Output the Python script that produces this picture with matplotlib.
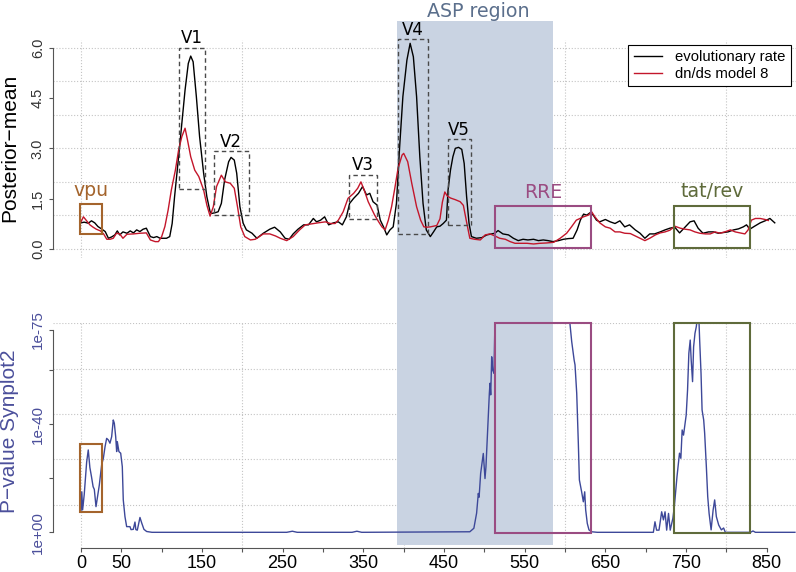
import matplotlib
matplotlib.use("Agg")
import matplotlib.pyplot as plt
from matplotlib.patches import Rectangle
from matplotlib.transforms import blended_transform_factory

plt.rcParams['font.family'] = ['Liberation Sans', 'DejaVu Sans']

# ---------------- data ----------------
black_x = [0, 4, 9, 13, 17, 21, 26, 30, 34, 38, 42, 45, 48, 52, 57, 61, 65, 69, 73, 77, 81, 83, 86, 90, 94, 98,
           102, 106, 110, 113, 116, 121, 125, 129, 133, 136, 139, 143, 147, 152, 156, 160, 162, 166, 170, 174,
           178, 183, 186, 190, 193, 197, 201, 205, 212, 218, 226, 234, 240, 247, 253, 258, 263, 269, 276, 282,
           288, 292, 297, 302, 307, 313, 319, 324, 329, 333, 338, 344, 349, 354, 358, 362, 367, 371, 375, 379,
           383, 387, 391, 395, 399, 404, 408, 412, 416, 420, 424, 428, 433, 437, 441, 445, 449, 453, 455, 458,
           461, 464, 468, 472, 475, 478, 481, 484, 490, 497, 503, 509, 513, 517, 523, 530, 536, 542, 548, 554,
           561, 567, 573, 579, 585, 592, 598, 604, 610, 615, 619, 623, 627, 631, 635, 639, 643, 650, 656, 662,
           668, 674, 680, 687, 693, 699, 705, 711, 718, 724, 730, 736, 742, 749, 755, 760, 765, 771, 778, 784,
           790, 796, 802, 809, 815, 821, 825, 829, 835, 842, 848, 854, 860]
black_y = [0.78, 0.80, 0.77, 0.84, 0.78, 0.67, 0.59, 0.52, 0.32, 0.36, 0.42, 0.54, 0.42, 0.51, 0.47, 0.54, 0.48,
           0.57, 0.52, 0.59, 0.62, 0.52, 0.37, 0.34, 0.37, 0.32, 0.32, 0.32, 0.37, 0.76, 1.56, 2.75, 3.75, 4.74,
           5.53, 5.75, 5.58, 4.54, 3.35, 2.26, 1.56, 1.11, 1.06, 1.08, 1.11, 1.36, 2.06, 2.60, 2.73, 2.65, 2.26,
           1.26, 0.77, 0.57, 0.47, 0.32, 0.47, 0.59, 0.65, 0.51, 0.32, 0.29, 0.45, 0.59, 0.72, 0.72, 0.91, 0.81,
           0.86, 0.96, 0.72, 0.78, 0.81, 0.72, 0.96, 1.36, 1.51, 1.66, 1.86, 1.61, 1.66, 1.41, 1.31, 0.86, 0.66,
           0.42, 0.57, 0.66, 1.36, 3.05, 4.54, 5.63, 6.13, 5.73, 4.54, 2.75, 1.36, 0.57, 0.37, 0.51, 0.66, 0.68,
           0.76, 0.86, 1.76, 2.35, 2.75, 3.00, 3.03, 2.97, 2.55, 1.56, 0.77, 0.37, 0.32, 0.34, 0.42, 0.45, 0.47,
           0.55, 0.45, 0.42, 0.32, 0.25, 0.29, 0.27, 0.29, 0.25, 0.27, 0.25, 0.22, 0.25, 0.29, 0.31, 0.32, 0.57,
           0.86, 1.04, 1.01, 1.08, 1.01, 0.86, 0.81, 0.88, 0.81, 0.76, 0.84, 0.66, 0.72, 0.57, 0.47, 0.32, 0.45,
           0.45, 0.51, 0.57, 0.62, 0.65, 0.48, 0.66, 0.81, 0.84, 0.62, 0.47, 0.51, 0.51, 0.47, 0.49, 0.51, 0.57,
           0.60, 0.66, 0.72, 0.59, 0.68, 0.78, 0.84, 0.91, 0.78]

red_x = [0, 3, 7, 11, 15, 19, 24, 28, 32, 36, 40, 44, 48, 52, 57, 65, 73, 81, 86, 92, 96, 100, 104, 108, 112,
         117, 121, 125, 129, 132, 136, 141, 146, 152, 156, 160, 164, 168, 174, 179, 185, 190, 194, 198, 203,
         210, 216, 226, 234, 241, 247, 255, 263, 271, 278, 286, 294, 303, 309, 315, 319, 325, 331, 338, 343,
         347, 351, 356, 360, 364, 369, 373, 377, 381, 385, 389, 393, 398, 400, 405, 410, 416, 421, 425, 429,
         433, 441, 445, 448, 451, 454, 458, 464, 470, 474, 478, 482, 488, 495, 501, 507, 513, 519, 526, 532,
         538, 544, 553, 561, 569, 577, 586, 594, 602, 608, 614, 623, 629, 633, 637, 643, 650, 656, 662, 668,
         674, 681, 687, 693, 699, 705, 712, 718, 724, 730, 736, 743, 749, 755, 761, 767, 774, 780, 786, 792,
         798, 805, 811, 817, 823, 827, 831, 836, 842, 848, 852]
red_y = [0.81, 0.96, 0.84, 0.72, 0.65, 0.59, 0.54, 0.45, 0.29, 0.29, 0.32, 0.47, 0.45, 0.32, 0.44, 0.45, 0.47,
         0.48, 0.27, 0.22, 0.22, 0.37, 0.67, 1.16, 1.76, 2.35, 2.95, 3.35, 3.60, 3.25, 2.75, 2.35, 2.16, 1.76,
         1.31, 0.98, 1.26, 1.86, 2.20, 2.00, 1.96, 1.81, 1.26, 0.66, 0.37, 0.27, 0.29, 0.45, 0.45, 0.39, 0.32,
         0.25, 0.37, 0.57, 0.72, 0.75, 0.78, 0.81, 0.76, 0.76, 0.86, 1.11, 1.51, 1.66, 1.81, 2.00, 1.76, 1.41,
         1.21, 1.01, 0.81, 0.66, 0.57, 0.86, 1.26, 1.81, 2.40, 2.80, 2.85, 2.60, 1.96, 1.26, 0.86, 0.66, 0.65,
         0.66, 0.70, 0.90, 1.40, 1.70, 1.58, 1.52, 1.47, 1.41, 1.30, 0.80, 0.32, 0.29, 0.27, 0.42, 0.45, 0.39,
         0.32, 0.29, 0.22, 0.17, 0.17, 0.17, 0.15, 0.17, 0.18, 0.20, 0.32, 0.47, 0.66, 0.86, 0.96, 1.01, 1.11,
         0.96, 0.78, 0.66, 0.62, 0.51, 0.51, 0.47, 0.46, 0.39, 0.32, 0.25, 0.32, 0.42, 0.48, 0.51, 0.56, 0.68,
         0.62, 0.59, 0.57, 0.51, 0.47, 0.45, 0.45, 0.51, 0.47, 0.51, 0.57, 0.51, 0.48, 0.45, 0.57, 0.86, 0.91,
         0.91, 0.88, 0.85]

# -log10(p) of Synplot2
blue_x = [0, 1, 2, 4, 7, 9, 11, 13, 15, 16.5, 18.6, 22.7, 25.6, 27.7, 29.8, 31.8, 33.9, 35.9, 38, 40, 41.3, 43,
          44.2, 45, 47, 49.2, 51.2, 52.4, 54.5, 56.6, 60.7, 62, 64.8, 66.9, 68, 69.8, 73.1, 75.2, 78, 81.4, 88,
          255, 262, 268, 336, 342, 348, 482, 487, 490.4, 492.5, 493.5, 495.4, 498.7, 500.8, 502, 503.7, 505,
          506.2, 507, 507.9, 509.1, 510.3, 511.9, 513.6, 520, 560, 600, 606, 608.3, 611.3, 612.4, 614.5, 616.5,
          617.8, 620.6, 622.7, 624.4, 625.6, 627.6, 629.7, 633, 640, 708, 709.5, 711.5, 713.5, 716.5, 719.8,
          722, 724, 726, 728.3, 730.4, 733.7, 735.5, 738.8, 741.9, 743.6, 745.2, 746.9, 750.2, 751.9, 753.5,
          755.2, 756.4, 758.1, 759.4, 761.1, 762.7, 764.4, 765.6, 766.9, 768.6, 769.9, 771.9, 773.1, 775.2,
          776.9, 778.6, 781.1, 783.6, 785.5, 787.6, 790.5, 793.8, 796.6, 798.7, 830, 833, 836, 885]
blue_y = [7.6, 15, 8.3, 14, 26, 30.5, 24, 20.6, 16.9, 15.9, 9.5, 17.5, 25, 27.4, 31.7, 34.8, 34.2, 33, 35.4, 41.6,
          40.4, 35.4, 29.9, 33.6, 29.9, 29.3, 24.3, 12, 5.8, 2.1, 2.1, 1.0, 1.1, 3.8, 1.0, 0.8, 5.5, 3.5, 1.1, 0.3,
          0, 0, 0.4, 0, 0, 0.4, 0, 0.2, 1.5, 7.1, 14.4, 13, 21.8, 29.2, 19.9, 24.3, 35.4, 44, 51.5, 55.2, 50.9,
          65, 60.1, 58.9, 85, 95, 100, 90, 77.6, 70.6, 63.8, 62, 51.5, 33, 19.4, 15, 11.3, 15, 8.3, 3.3, 0.9,
          0.2, 0, 0, 0, 3.9, 0.8, 0.8, 7.6, 4.6, 7.6, 0.8, 7, 0.8, 5.2, 9.5, 20.6, 29.3, 27.4, 37.9, 36, 43.4,
          52.7, 66.3, 71.2, 63.8, 55.8, 68.7, 73.7, 76.1, 80, 82, 71.2, 58.9, 45.3, 41.6, 36.7, 24.3, 13.2, 7,
          0.9, 8.3, 12, 5.8, 2.7, 0.9, 1.6, 0, 0, 0.5, 0, 0]

# annotated regions
v_names = ["V1", "V2", "V3", "V4", "V5"]
v_x0 = [122, 164.9, 331.8, 393.4, 454.5]
v_x1 = [154.1, 207.9, 367.3, 429.8, 483.4]
v_y0 = [1.79, 1.01, 0.885, 0.447, 0.715]
v_y1 = [6.0, 2.91, 2.21, 6.26, 3.27]

gene_names = ["vpu", "RRE", "tat/rev"]
gene_colors = ["#a4642c", "#9a4c82", "#5f6b3b"]
gene_x0 = [-1.2, 513.4, 734.6]
gene_x1 = [26.4, 631.8, 829.7]
gene_top_y0 = [0.44, 0.02, 0.02]
gene_top_y1 = [1.33, 1.28, 1.29]
gene_bot_y0 = [7.4, -0.4, -0.4]
gene_bot_y1 = [32.6, 77.6, 77.6]

asp_x0, asp_x1 = 391.7, 584.7

xtick_pos = list(range(0, 851, 50))
xtick_lab = ["0", "50", "", "150", "", "250", "", "350", "", "450", "", "550", "", "650", "", "750", "", "850"]
ytop_pos = [0, 1.5, 3.0, 4.5, 6.0]
ytop_lab = ["0.0", "1.5", "3.0", "4.5", "6.0"]
ybot_pos = [0, 20, 40, 60, 75]
ybot_lab = ["1e+00", "", "1e-40", "", "1e-75"]

# ---------------- figure ----------------
W, H = 796, 572
fig = plt.figure(figsize=(W / 100, H / 100), dpi=100)


def fr(l, t, r, b):
    return [l / W, 1 - b / H, (r - l) / W, (b - t) / H]


ax1 = fig.add_axes(fr(53.3, 40, 796, 258))
ax2 = fig.add_axes(fr(53.3, 322.7, 796, 547.7))
XL = ((53.3 - 81) / 0.8067, (796 - 81) / 0.8067)
for ax in (ax1, ax2):
    ax.set_xlim(*XL)
    ax.patch.set_alpha(0)
    for s in ("top", "right"):
        ax.spines[s].set_visible(False)
ax1.spines["bottom"].set_visible(False)
ax1.set_ylim(-0.268, 6.229)
ax2.set_ylim(-5.70, 77.63)

grid_kw = dict(color="#c4c4c4", lw=0.8, ls=":", zorder=0.5)
for gy in [0, 1, 2, 3, 4, 5, 6]:
    ax1.axhline(gy, **grid_kw)
for gy in [10, 27, 44, 60.6, 77.6]:
    ax2.axhline(gy, **grid_kw)
for gx in [0, 200, 400, 600, 800]:
    ax1.axvline(gx, **grid_kw)
    ax2.axvline(gx, **grid_kw)

# ASP region spanning both panels
asp_col = "#c9d3e2"
t1 = blended_transform_factory(ax1.transData, fig.transFigure)
t2 = blended_transform_factory(ax2.transData, fig.transFigure)
ax1.add_patch(Rectangle((asp_x0, 1 - 290 / H), asp_x1 - asp_x0, (290 - 20.7) / H, transform=t1,
                        facecolor=asp_col, edgecolor="none", clip_on=False, zorder=1))
ax2.add_patch(Rectangle((asp_x0, 1 - 545 / H), asp_x1 - asp_x0, (545 - 290) / H, transform=t2,
                        facecolor=asp_col, edgecolor="none", clip_on=False, zorder=1))
fig.text(478 / W, 1 - 16.7 / H, "ASP region", family="DejaVu Sans", fontsize=13.7, color="#5b6f8c",
         ha="center", va="baseline")

# curves
ax1.plot(black_x, black_y, color="black", lw=1.0, zorder=3, label="evolutionary rate")
ax1.plot(red_x, red_y, color="#c3162b", lw=1.0, zorder=3, label="dn/ds model 8")
ax2.plot(blue_x, blue_y, color="#3d4899", lw=1.0, zorder=3)

# V boxes
for n, a, b, c, d in zip(v_names, v_x0, v_x1, v_y0, v_y1):
    ax1.add_patch(Rectangle((a, c), b - a, d - c, fill=False, edgecolor="#4a4a4a", lw=1.0,
                            ls=(0, (3.2, 2.3)), clip_on=False, zorder=4))
    ax1.text((a + b) / 2, d + 0.13, n, family="DejaVu Sans", fontsize=12, ha="center", va="baseline",
             clip_on=False, zorder=5)

# gene boxes
for n, col, a, b, c0, c1, d0, d1 in zip(gene_names, gene_colors, gene_x0, gene_x1, gene_top_y0,
                                        gene_top_y1, gene_bot_y0, gene_bot_y1):
    ax1.add_patch(Rectangle((a, c0), b - a, c1 - c0, fill=False, edgecolor=col, lw=1.5, clip_on=False, zorder=4))
    ax2.add_patch(Rectangle((a, d0), b - a, d1 - d0, fill=False, edgecolor=col, lw=1.5, clip_on=False, zorder=4))
    ax1.text((a + b) / 2, c1 + 0.25, n, family="DejaVu Sans", fontsize=13.6, color=col, ha="center",
             va="baseline", clip_on=False, zorder=5)

# axes styling
axcol = "#555555"
ax1.set_xticks([])
ax1.set_yticks(ytop_pos)
ax1.set_yticklabels(ytop_lab)
ax1.spines["left"].set_bounds(0, 6)
ax1.tick_params(axis="y", length=3, width=0.8, color=axcol, labelsize=10.5, labelcolor="#333333", pad=3,
                labelrotation=90)
ax2.set_xticks(xtick_pos)
ax2.set_xticklabels(xtick_lab)
ax2.set_yticks(ybot_pos)
ax2.set_yticklabels(ybot_lab)
ax2.spines["left"].set_bounds(0, 75)
ax2.spines["bottom"].set_bounds(0, 850)
ax2.tick_params(axis="y", length=3, width=0.8, color=axcol, labelsize=11, labelcolor="#4b4f9b", pad=3,
                labelrotation=90)
ax2.tick_params(axis="x", length=3, width=0.8, color=axcol, labelsize=13, labelcolor="black", pad=2)
for ax in (ax1, ax2):
    for s in ("left", "bottom"):
        ax.spines[s].set_color(axcol)
        ax.spines[s].set_linewidth(0.8)
    for lbl in ax.get_yticklabels():
        lbl.set_va("center")

fig.text(10 / W, 1 - 148 / H, "Posterior\u2212mean", rotation=90, fontsize=15, ha="center", va="center")
fig.text(10 / W, 1 - 431 / H, "P\u2212value Synplot2", rotation=90, fontsize=15, color="#4b4f9b",
         ha="center", va="center")

leg = ax1.legend(loc="upper right", bbox_to_anchor=(790.7 / W, 1 - 45 / H), bbox_transform=fig.transFigure,
                 fontsize=10.7, frameon=True, fancybox=False, framealpha=1, edgecolor="black",
                 borderaxespad=0, borderpad=0.35, handlelength=1.9, handletextpad=0.9, labelspacing=0.2)
leg.get_frame().set_linewidth(0.8)
leg.set_zorder(6)

fig.savefig("out.png", dpi=100)
